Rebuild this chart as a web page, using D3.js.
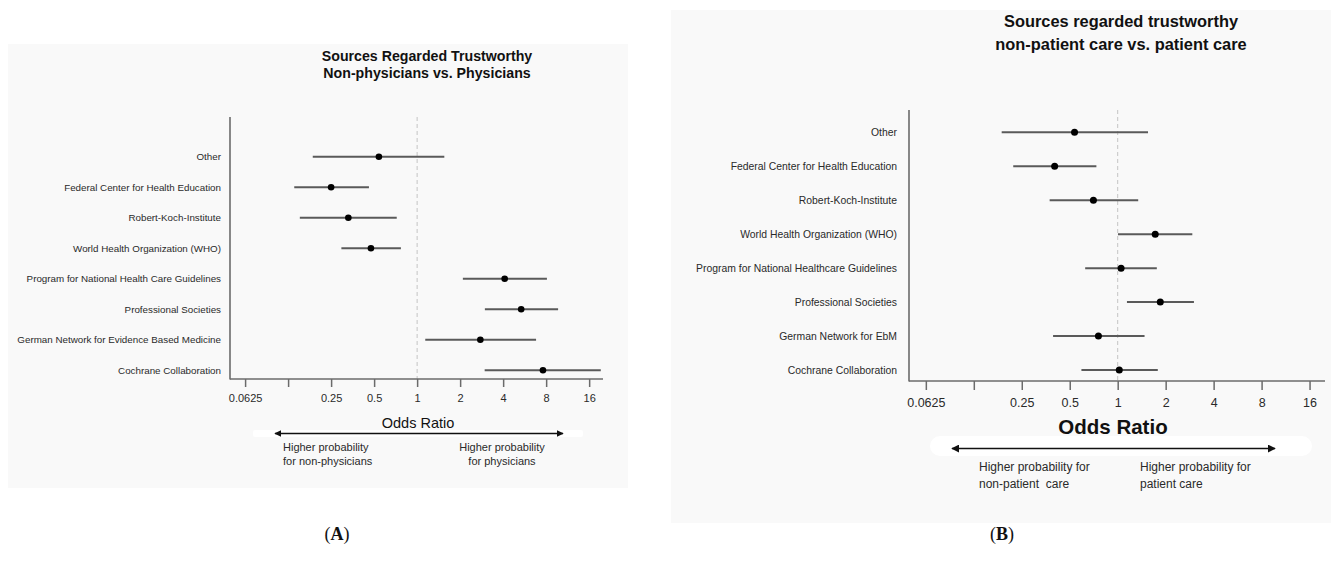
<!DOCTYPE html>
<html>
<head>
<meta charset="utf-8">
<script src="https://cdn.jsdelivr.net/npm/d3@7"></script>
<style>
  html, body { margin: 0; padding: 0; background: #ffffff; }
  svg { display: block; font-family: "Liberation Sans", Arial, sans-serif; }
</style>
</head>
<body>
<svg id="chart" width="1331" height="565"></svg>
<script>
// ---------------- DATA ----------------
const categoriesA = [
  "Other",
  "Federal Center for Health Education",
  "Robert-Koch-Institute",
  "World Health Organization (WHO)",
  "Program for National Health Care Guidelines",
  "Professional Societies",
  "German Network for Evidence Based Medicine",
  "Cochrane Collaboration"
];
const oddsA  = [0.54, 0.25, 0.33, 0.475, 4.1, 5.35, 2.77, 7.6];
const lowerA = [0.186, 0.138, 0.151, 0.295, 2.09, 2.98, 1.14, 2.97];
const upperA = [1.55, 0.46, 0.72, 0.77, 8.1, 9.7, 6.8, 19.3];

const categoriesB = [
  "Other",
  "Federal Center for Health Education",
  "Robert-Koch-Institute",
  "World Health Organization (WHO)",
  "Program for National Healthcare Guidelines",
  "Professional Societies",
  "German Network for EbM",
  "Cochrane Collaboration"
];
const oddsB  = [0.536, 0.402, 0.704, 1.72, 1.05, 1.85, 0.757, 1.023];
const lowerB = [0.187, 0.221, 0.374, 1.004, 0.625, 1.143, 0.393, 0.592];
const upperB = [1.55, 0.735, 1.345, 2.94, 1.76, 3.01, 1.474, 1.785];

const tickValues = [0.0625, 0.125, 0.25, 0.5, 1, 2, 4, 8, 16];
const tickLabels = ["0.0625", "", "0.25", "0.5", "1", "2", "4", "8", "16"];
const xDomain = [0.049, 20];

const titleA = ["Sources Regarded Trustworthy", "Non-physicians vs. Physicians"];
const titleB = ["Sources regarded trustworthy", "non-patient care vs. patient care"];
const arrowTextA = [["Higher probability", "for non-physicians"], ["Higher probability", "for physicians"]];
const arrowTextB = [["Higher probability for", "non-patient  care"], ["Higher probability for", "patient care"]];
const axisTitle = "Odds Ratio";

// ---------------- DRAW ----------------
const svg = d3.select("#chart");
const defs = svg.append("defs");
["A", "B"].forEach(k => {
  defs.append("marker").attr("id", "arrEnd" + k)
    .attr("viewBox", "0 0 10 10").attr("refX", 9).attr("refY", 5)
    .attr("markerWidth", k === "A" ? 4.5 : 5).attr("markerHeight", k === "A" ? 4.5 : 5)
    .attr("orient", "auto-start-reverse")
    .append("path").attr("d", "M0,0 L10,5 L0,10 z").attr("fill", "#111");
});

function drawPanel(cfg) {
  const g = svg.append("g");
  // panel background
  g.append("rect").attr("x", cfg.box[0]).attr("y", cfg.box[1])
    .attr("width", cfg.box[2] - cfg.box[0]).attr("height", cfg.box[3] - cfg.box[1])
    .attr("fill", "#f9f9f9");

  const x = d3.scaleLog().base(2).domain(xDomain).range([cfg.axisX, cfg.axisRight]);
  const y = d3.scalePoint().domain(cfg.cats).range(cfg.rowRange);

  // titles
  cfg.title.forEach((t, i) => {
    g.append("text").attr("x", cfg.titleX).attr("y", cfg.titleY[i])
      .attr("text-anchor", "middle").attr("font-weight", "bold")
      .attr("font-size", cfg.titleSize).attr("fill", "#111").text(t);
  });

  // reference line at OR = 1
  g.append("line").attr("x1", x(1)).attr("x2", x(1))
    .attr("y1", cfg.axisTop).attr("y2", cfg.axisY)
    .attr("stroke", "#c4c4c4").attr("stroke-width", 1).attr("stroke-dasharray", "4,3");

  // y axis line
  g.append("line").attr("x1", cfg.axisX).attr("x2", cfg.axisX)
    .attr("y1", cfg.axisTop).attr("y2", cfg.axisY + 0.5)
    .attr("stroke", "#6b6b6b").attr("stroke-width", 1.6);

  // x axis
  const xAxis = d3.axisBottom(x).tickValues(tickValues)
    .tickFormat((d, i) => tickLabels[i]).tickSize(cfg.tickLen).tickSizeOuter(0).tickPadding(cfg.tickPad);
  const ax = g.append("g").attr("transform", `translate(0,${cfg.axisY})`).call(xAxis);
  ax.select(".domain").attr("stroke", "#6b6b6b").attr("stroke-width", 1.6)
    .attr("d", `M${cfg.axisX},0H${cfg.axisRight}`);
  ax.selectAll(".tick line").attr("stroke", "#6b6b6b").attr("stroke-width", 1.5);
  ax.selectAll(".tick text").attr("font-size", cfg.tickSize).attr("fill", "#2a2a2a")
    .attr("font-family", "'Liberation Sans', Arial, sans-serif");

  // category labels
  g.selectAll(".cat").data(cfg.cats).enter().append("text")
    .attr("x", cfg.axisX - cfg.labelGap).attr("y", d => y(d)).attr("dy", "0.35em")
    .attr("text-anchor", "end").attr("font-size", cfg.labelSize).attr("fill", "#2a2a2a")
    .text(d => d);

  // CI lines
  g.selectAll(".ci").data(cfg.cats).enter().append("line")
    .attr("x1", (d, i) => x(cfg.lower[i])).attr("x2", (d, i) => x(cfg.upper[i]))
    .attr("y1", d => y(d)).attr("y2", d => y(d))
    .attr("stroke", "#5a5a5a").attr("stroke-width", 2);
  // points
  g.selectAll(".pt").data(cfg.cats).enter().append("circle")
    .attr("cx", (d, i) => x(cfg.odds[i])).attr("cy", d => y(d)).attr("r", cfg.ptR)
    .attr("fill", "#000");

  // axis title
  g.append("text").attr("x", cfg.orX).attr("y", cfg.orY).attr("text-anchor", "middle")
    .attr("font-size", cfg.orSize).attr("font-weight", cfg.orWeight).attr("fill", "#111").text(axisTitle);

  // arrow band + arrow
  g.append("rect").attr("x", cfg.band[0]).attr("y", cfg.band[1])
    .attr("width", cfg.band[2] - cfg.band[0]).attr("height", cfg.band[3] - cfg.band[1])
    .attr("rx", cfg.bandR).attr("fill", "#ffffff");
  g.append("line").attr("x1", cfg.arrow[0]).attr("x2", cfg.arrow[1])
    .attr("y1", cfg.arrowY).attr("y2", cfg.arrowY)
    .attr("stroke", "#111").attr("stroke-width", 1.6)
    .attr("marker-start", `url(#arrEnd${cfg.key})`).attr("marker-end", `url(#arrEnd${cfg.key})`);

  // arrow texts
  cfg.arrowText.forEach((lines, side) => {
    lines.forEach((t, li) => {
      g.append("text").attr("x", cfg.arrowTextX[side]).attr("y", cfg.arrowTextY[li])
        .attr("text-anchor", cfg.arrowTextAnchor[side]).attr("font-size", cfg.arrowTextSize)
        .attr("fill", "#2a2a2a").attr("xml:space", "preserve").style("white-space", "pre").text(t);
    });
  });

  // panel label
  const pl = svg.append("text").attr("x", cfg.panelLabelX).attr("y", 540)
    .attr("text-anchor", "middle").attr("font-family", "'Liberation Serif', 'Times New Roman', serif")
    .attr("font-size", 18).attr("fill", "#111");
  pl.append("tspan").text("(");
  pl.append("tspan").attr("font-weight", "bold").text(cfg.key);
  pl.append("tspan").text(")");
}

drawPanel({
  key: "A", cats: categoriesA, odds: oddsA, lower: lowerA, upper: upperA,
  box: [8, 44, 628, 488],
  axisX: 230, axisRight: 603, axisTop: 117, axisY: 379,
  rowRange: [156.7, 370.3],
  title: titleA, titleX: 427, titleY: [61, 78], titleSize: 14.2,
  tickLen: 8, tickPad: 7, tickSize: 11,
  labelGap: 9, labelSize: 9.8, ptR: 3.3,
  orX: 418, orY: 428, orSize: 14.5, orWeight: "normal",
  band: [253, 430, 583, 437], bandR: 2, arrow: [275, 563], arrowY: 433.5,
  arrowText: arrowTextA, arrowTextX: [283, 502], arrowTextAnchor: ["start", "middle"],
  arrowTextY: [451, 465], arrowTextSize: 11,
  panelLabelX: 337
});

drawPanel({
  key: "B", cats: categoriesB, odds: oddsB, lower: lowerB, upper: upperB,
  box: [671, 10, 1331, 523],
  axisX: 909, axisRight: 1325, axisTop: 110, axisY: 381,
  rowRange: [132.3, 370],
  title: titleB, titleX: 1121, titleY: [27, 50], titleSize: 16.4,
  tickLen: 9, tickPad: 8, tickSize: 12.5,
  labelGap: 12, labelSize: 10.4, ptR: 3.5,
  orX: 1113, orY: 434, orSize: 20.5, orWeight: "bold",
  band: [930, 436, 1312, 456], bandR: 10, arrow: [952, 1275], arrowY: 448.5,
  arrowText: arrowTextB, arrowTextX: [979, 1140], arrowTextAnchor: ["start", "start"],
  arrowTextY: [471, 488], arrowTextSize: 12,
  panelLabelX: 1002
});
</script>
</body>
</html>
